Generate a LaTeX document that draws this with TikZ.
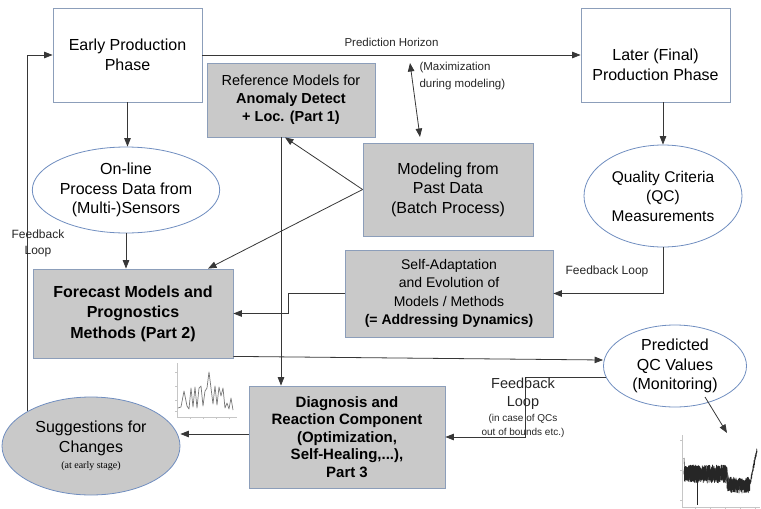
\documentclass[tikz,border=0pt]{standalone}
\usepackage{fontspec}
\setmainfont{Liberation Sans}
\newfontfamily\smallserif{Liberation Serif}
\usetikzlibrary{shapes.geometric,arrows.meta,calc}
\definecolor{boxgray}{RGB}{201,201,201}
\definecolor{boxline}{RGB}{140,158,186}
\definecolor{ellline}{RGB}{112,142,192}
\definecolor{wire}{RGB}{55,55,55}
\definecolor{plotline}{RGB}{120,120,120}

\begin{document}
\begin{tikzpicture}[x=1pt,y=-1pt,
  box/.style={draw=boxline, line width=0.8pt, fill=white, align=center, inner sep=0pt},
  graybox/.style={box, fill=boxgray},
  oval/.style={ellipse, draw=ellline, line width=0.8pt, fill=white, align=center, inner sep=0pt},
  grayoval/.style={oval, fill=boxgray},
  arr/.style={draw=wire, line width=0.8pt, -{Triangle[length=8.5pt,width=6.5pt]}},
  dblarr/.style={draw=wire, line width=0.8pt, {Triangle[length=8.5pt,width=6.5pt]}-{Triangle[length=8.5pt,width=6.5pt]}},
  big/.style={font=\fontsize{16}{19.5}\selectfont},
  mid/.style={font=\fontsize{14.5}{18}\selectfont},
  note/.style={font=\fontsize{11.5}{17}\selectfont, align=center, text=black!85},
]
\useasboundingbox (0,0) rectangle (761,509);

% ---- main blocks ----
\node[box, big, minimum width=149pt, minimum height=94pt] (early) at (127.5,55)
  {Early Production\\Phase};
\node[box, minimum width=149pt, minimum height=94pt] (later) at (655.5,55) {};
\node[big, align=center] (latertxt) at (655.5,65) {Later (Final)\\Production Phase};

\node[graybox, mid, minimum width=168pt, minimum height=74pt] (ref) at (291,100)
  {Reference Models for\\\textbf{Anomaly Detect}\\\textbf{+ Loc. (Part 1)}};

\node[oval, big, minimum width=160pt, minimum height=86pt] (online) at (126,190)
  {On-line\\Process Data from\\(Multi-)Sensors};

\node[graybox, big, minimum width=170pt, minimum height=93pt] (model) at (448,189.5)
  {Modeling from\\Past Data\\(Batch Process)};

\node[oval, font=\fontsize{15.5}{19.5}\selectfont, minimum width=158pt, minimum height=102pt] (qc) at (663,196)
  {Quality Criteria\\(QC)\\Measurements};

\node[graybox, big, font=\fontsize{16}{20.5}\selectfont\bfseries, minimum width=200pt, minimum height=89pt] (fore) at (133,313.5)
  {Forecast Models and\\Prognostics\\Methods (Part 2)};

\node[graybox, font=\fontsize{14}{18.3}\selectfont, minimum width=208pt, minimum height=87pt] (adapt) at (449,293.5)
  {Self-Adaptation\\and Evolution of\\Models / Methods\\\textbf{(= Addressing Dynamics)}};

\node[oval, big, minimum width=143pt, minimum height=82pt] (pred) at (675,366)
  {Predicted\\QC Values\\(Monitoring)};

\node[graybox, font=\fontsize{15}{17.5}\selectfont\bfseries, minimum width=196pt, minimum height=102pt] (diag) at (347,437)
  {Diagnosis and\\Reaction Component\\(Optimization,\\Self-Healing,...),\\Part 3};

\node[grayoval, big, minimum width=178pt, minimum height=98pt] (sugg) at (91,446)
  {Suggestions for\\Changes\\[-3pt]{\smallserif\fontsize{10}{12}\selectfont(at early stage)}};

% ---- connectors ----
\draw[arr] (early.east) -- node[note, above=5pt] {Prediction Horizon} (later.west);

\coordinate (hzTop) at (410,63);
\coordinate (hzBot) at (420,137);
\draw[dblarr] (hzTop) -- (hzBot);
\node[note, align=left, anchor=north west, font=\fontsize{11.5}{16.5}\selectfont] (maxlbl) at (416,59)
  {(Maximization\\during modeling)};

\draw[arr] (early.south) -- (early.south |- online.north);
\draw[arr] (online.south) -- (online.south |- fore.north);

% feedback from the suggestions back to the early phase
\draw[arr] (sugg.151) -- (sugg.151 |- early.west) -- (early.west);
\node[note, font=\fontsize{12}{16}\selectfont] (fbleft) at (38,243) {Feedback\\Loop};

% modeling feeds reference models and forecast models
\draw[arr] (model.west) -- ([xshift=-6pt]ref.south);
\draw[arr] (model.west) -- ([xshift=75pt]fore.north);

% reference models to diagnosis
\draw[arr] ([xshift=-10pt]ref.south) -- ([xshift=-10pt]ref.south |- diag.north);

% later phase to quality criteria
\draw[arr] (qc.north |- later.south) -- (qc.north);

% quality criteria feedback into self-adaptation
\draw[arr] (qc.south) |- (adapt.east);
\node[note, font=\fontsize{12}{16}\selectfont] (fbright) at (607,271) {Feedback Loop};

% self-adaptation into forecast models
\draw[arr] (adapt.west) -- ++(-56,0) |- (fore.east);

% forecast to predicted QC values
\draw[arr] ([yshift=2pt]fore.south east) -- ([yshift=6pt]pred.west);

% predicted QC values back to diagnosis
\coordinate (fbx) at (525,437);
\draw[arr] (pred.189) -| (fbx) -- (diag.east);
\node[align=center, text=black!85, font=\fontsize{14.5}{18}\selectfont] (fbbot) at (523,394)
  {Feedback\\Loop};
\node[align=center, text=black!85, font=\fontsize{10}{14.5}\selectfont] (fbcase) at (523,426)
  {(in case of QCs\\out of bounds etc.)};

% diagnosis to suggestions
\draw[arr] ([yshift=3pt]diag.west) -- ([yshift=3pt]diag.west -| sugg.east);

% ---- small signal plot near the forecast block ----
\draw[gray!45, line width=0.4pt] (177,363) -- (177,417) -- (237,417);
\foreach \ty in {372,386,400,411} \draw[gray!45, line width=0.4pt] (175,\ty) -- (177,\ty);
\foreach \tx in {190,203,216,229} \draw[gray!45, line width=0.4pt] (\tx,417) -- (\tx,419);
\draw[plotline, line width=0.7pt, line join=round]
  (178,408) -- (181,407) -- (184,391) -- (187,406) -- (189,409) -- (191,388) -- (193,407)
  -- (195,387) -- (197,408) -- (199,388) -- (201,386) -- (203,406) -- (205,391) -- (207,388)
  -- (209,372) -- (211,388) -- (213,404) -- (215,386) -- (217,405) -- (219,387) -- (221,396)
  -- (223,388) -- (225,408) -- (227,403) -- (229,409) -- (231,398) -- (233,410);

% ---- monitoring plot ----
\coordinate (monStart) at (705,397);
\coordinate (monEnd) at (727,433);
\draw[arr] (monStart) -- (monEnd);
\draw[gray!45, line width=0.4pt] (682,435) -- (682,507) -- (760,507);
\foreach \ty in {440,470,500} \draw[gray!45, line width=0.4pt] (680,\ty) -- (682,\ty);
\foreach \tx in {695,710,725,740,755} \draw[gray!45, line width=0.4pt] (\tx,507) -- (\tx,509);
% dense core of the noisy signal
\fill[black!70] (684,468) -- (727,469) -- (729,479) -- (749,481) -- (750,489) -- (728,490) -- (726,480) -- (684,480) -- cycle;
\pgfmathsetseed{11}
\draw[black!85, line width=0.8pt, line join=round]
  plot[domain=684:727, samples=420] (\x,{474+9*rand});
\draw[black!85, line width=0.8pt, line join=round]
  plot[domain=727:750, samples=220] (\x,{485+8*rand});
\draw[black!85, line width=0.8pt, line join=round]
  plot[domain=750:757, samples=50] (\x,{484-5*(\x-750)+3*rand});
\draw[black!85, line width=0.6pt] (684,458) -- (685,478);
\draw[black!85, line width=0.6pt] (697,478) -- (697,505);
\end{tikzpicture}
\end{document}
